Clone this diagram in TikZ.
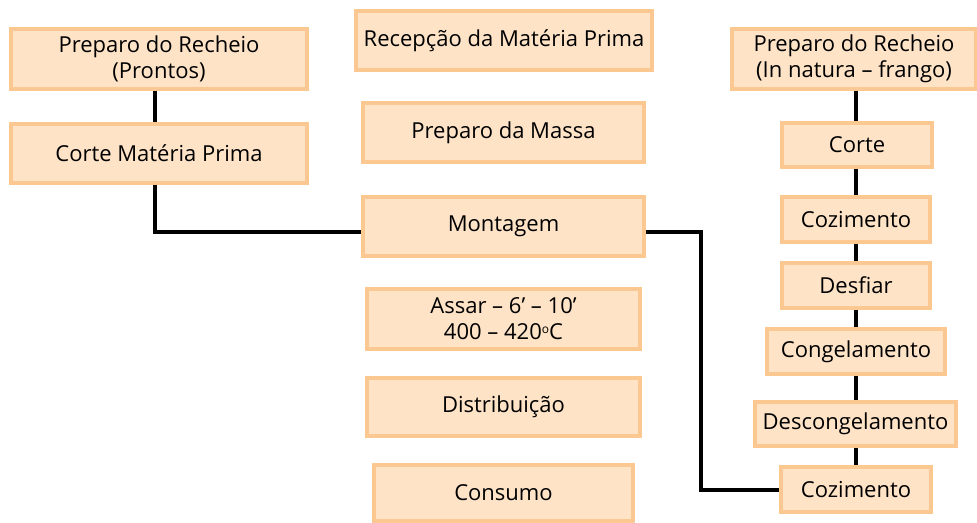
\documentclass[tikz,border=0pt]{standalone}
\usepackage{fontspec}
\setmainfont{Open Sans}
\definecolor{boxfill}{HTML}{FEE3C7}
\definecolor{boxline}{HTML}{FBC891}
\tikzset{
  box/.style={draw=boxline, fill=boxfill, line width=2.6pt, inner sep=0pt, align=center,
    font=\fontsize{16.5}{19.5}\selectfont},
  conn/.style={draw=black, line width=2.6pt}
}
\begin{document}
\begin{tikzpicture}[x=0.75pt,y=-0.75pt]
\useasboundingbox (0,0) rectangle (977,522);
\node[box, minimum width=222pt, minimum height=45pt] (prp) at (159,59) {Preparo do Recheio\\(Prontos)};
\node[box, minimum width=222pt, minimum height=44.25pt] (cmp) at (159,153.5) {Corte Matéria Prima};
\node[box, minimum width=222pt, minimum height=44.25pt] (rec) at (504,40.5) {Recepção da Matéria Prima};
\node[box, minimum width=210.75pt, minimum height=44.25pt] (mas) at (503.5,132.5) {Preparo da Massa};
\node[box, minimum width=210.75pt, minimum height=44.25pt] (mon) at (503.5,226.5) {Montagem};
\node[box, minimum width=204.75pt, minimum height=45pt] (ass) at (503.5,319) {Assar – 6’ – 10’\\400 – 420{\fontsize{9}{9}\selectfont\raisebox{4.5pt}{o}}C};
\node[box, minimum width=204.75pt, minimum height=43.5pt] (dis) at (503.5,407) {Distribuição};
\node[box, minimum width=194.25pt, minimum height=42pt] (con) at (503.5,493) {Consumo};
\node[box, minimum width=183pt, minimum height=45pt] (pri) at (854,59) {Preparo do Recheio\\(In natura – frango)};
\node[box, minimum width=112.5pt, minimum height=33pt] (cor) at (857,145) {Corte};
\node[box, minimum width=111pt, minimum height=33.75pt] (coz1) at (856,219.5) {Cozimento};
\node[box, minimum width=111pt, minimum height=33.75pt] (des) at (856,285.5) {Desfiar};
\node[box, minimum width=133.5pt, minimum height=33.75pt] (cgl) at (856,351.5) {Congelamento};
\node[box, minimum width=150.75pt, minimum height=33pt] (dcg) at (855.5,424) {Descongelamento};
\node[box, minimum width=112.5pt, minimum height=33.75pt] (coz2) at (856,489.5) {Cozimento};
% connectors
\coordinate (lx) at (155,232);
\coordinate (rx) at (701,232);
\coordinate (rb) at (701,490);
\coordinate (cx) at (856,0);
\draw[conn] (prp.south -| lx) -- (cmp.north -| lx);
\draw[conn] (cmp.south -| lx) -- (lx) -- (mon.west |- lx);
\draw[conn] (mon.east |- rx) -- (rx) -- (rb) -- (coz2.west |- rb);
\draw[conn] (pri.south -| cx) -- (cor.north -| cx);
\draw[conn] (cor.south -| cx) -- (coz1.north -| cx);
\draw[conn] (coz1.south -| cx) -- (des.north -| cx);
\draw[conn] (des.south -| cx) -- (cgl.north -| cx);
\draw[conn] (cgl.south -| cx) -- (dcg.north -| cx);
\draw[conn] (dcg.south -| cx) -- (coz2.north -| cx);
\end{tikzpicture}
\end{document}
